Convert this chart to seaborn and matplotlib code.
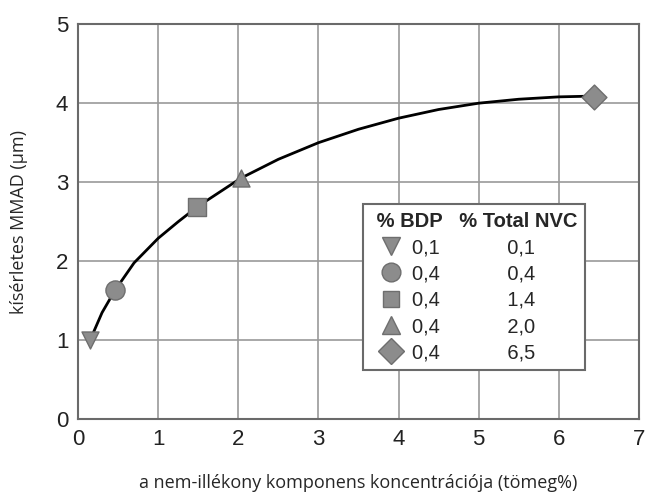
import numpy as np
import pandas as pd
import seaborn as sns
import matplotlib.pyplot as plt
from matplotlib.lines import Line2D

# measured points
nvc_x = [0.15, 0.46, 1.49, 2.03, 6.44]
mmad_y = [1.0, 1.63, 2.69, 3.05, 4.08]
bdp_lbl = ["0,1", "0,4", "0,4", "0,4", "0,4"]
nvc_lbl = ["0,1", "0,4", "1,4", "2,0", "6,5"]
mark = ["v", "o", "s", "^", "D"]
msize = [150, 190, 170, 150, 160]

# trend curve
curve_x = [0.15, 0.3, 0.46, 0.7, 1.0, 1.25, 1.49, 2.03, 2.5, 3.0, 3.5, 4.0, 4.5, 5.0, 5.5, 6.0, 6.44]
curve_y = [1.0, 1.35, 1.63, 1.98, 2.29, 2.5, 2.69, 3.05, 3.29, 3.5, 3.67, 3.81, 3.92, 4.0, 4.05, 4.08, 4.09]

sns.set_style("white")
plt.rcParams['font.family'] = ['Liberation Sans', 'DejaVu Sans']

fig = plt.figure(figsize=(6.48, 4.93), dpi=100)
ax = fig.add_axes([0.1204, 0.1495, 0.8656, 0.8015])

sns.lineplot(x=curve_x, y=curve_y, color="black", lw=2, ax=ax, sort=False, zorder=3)

pts = pd.DataFrame({"x": nvc_x, "y": mmad_y, "k": nvc_lbl})
fill = "#8c8c8c"
edge = "#6e6e6e"
for i, row in pts.iterrows():
    sns.scatterplot(x=[row.x], y=[row.y], marker=mark[i], s=msize[i], color=fill,
                    edgecolor=edge, linewidth=1, ax=ax, zorder=4)

ax.set_xlim(0, 7)
ax.set_ylim(0, 5)
ax.set_xticks(range(0, 8))
ax.set_yticks(range(0, 6))
ax.grid(True, color="#9a9a9a", lw=1.2)
ax.set_axisbelow(True)
for s in ax.spines.values():
    s.set_color("#6a6a6a")
    s.set_linewidth(1.5)
ax.tick_params(length=0, labelsize=16, pad=7, colors="#222222")

ax.set_xlabel("a nem-illékony komponens koncentrációja (tömeg%)",
              fontfamily="Open Sans", fontsize=13, labelpad=17)
ax.set_ylabel("kísérletes MMAD (µm)", fontfamily="Open Sans", fontsize=13, labelpad=20)

handles = [Line2D([], [], ls="none", marker=mark[i], markersize=13.5 if mark[i] != "s" else 12,
                  markerfacecolor=fill, markeredgecolor=edge) for i in range(5)]
labels = [f"{b}            {n}" for b, n in zip(bdp_lbl, nvc_lbl)]
leg = ax.legend(handles, labels, title=" % BDP   % Total NVC", loc="upper right",
                bbox_to_anchor=(0.904, 0.545), borderaxespad=0, fontsize=14.5,
                title_fontsize=14.5, frameon=True, fancybox=False, edgecolor="#6a6a6a",
                framealpha=1, handletextpad=0.05, handlelength=2.0, labelspacing=0.36,
                borderpad=0.4, alignment="left")
leg.get_title().set_fontweight("bold")
leg.get_frame().set_linewidth(1.5)

fig.savefig("out.png", dpi=100)
